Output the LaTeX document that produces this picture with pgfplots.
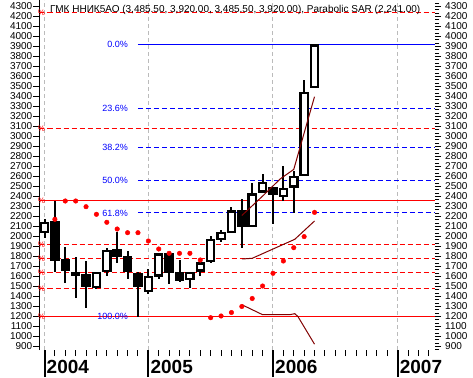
\documentclass[border=0pt]{standalone}
\usepackage{fontspec}
\setmainfont{Liberation Sans}
\usepackage{pgfplots}
\usepackage{pgfplotstable}
\pgfplotsset{compat=1.18}
\definecolor{maroonline}{HTML}{800000}
\definecolor{gridgray}{HTML}{BBBBBB}
\definecolor{fibblue}{HTML}{0000FF}
\definecolor{fibred}{HTML}{FF0000}

\pgfplotstableread{
i o h l c
0 2036 2172 1980 2148
1 2152 2352 1650 1755
2 1772 1890 1535 1656
3 1645 1795 1382 1600
4 1620 1755 1286 1495
5 1480 1645 1478 1645
6 1645 1882 1600 1862
7 1872 2042 1735 1792
8 1805 1856 1575 1645
9 1640 1640 1200 1500
10 1448 1670 1420 1610
11 1600 1835 1578 1832
12 1832 1835 1525 1638
13 1645 1765 1540 1555
14 1562 1645 1490 1643
15 1648 1745 1607 1740
16 1742 2002 1740 1974
17 1966 2065 1948 2043
18 2037 2295 2033 2260
19 2262 2376 1880 2093
20 2093 2531 2093 2430
21 2438 2622 2438 2548
22 2497 2497 2128 2410
23 2392 2707 2350 2488
24 2488 2657 2238 2606
25 2606 3564 2606 3448
26 3485.5 3920 3485.5 3920
}\candles

\pgfplotstableread{
i s
1 2172
2 2355
3 2355
4 2298
5 2222
6 2142
7 2075
8 2038
9 2038
10 1955
11 1875
12 1832
13 1832
14 1832
15 1765
16 1188
17 1205
18 1240
19 1300
20 1380
21 1505
22 1632
23 1755
24 1888
25 1999
26 2241
}\sar

\pgfplotsset{
  base/.style={at={(0,0)}, anchor=south west, scale only axis,
    width=395.5pt, height=350pt,
    xmin=-0.4815, xmax=37.60, ymin=865, ymax=4365,
    tick label style={font=\fontsize{10}{12}\selectfont},
    /pgf/number format/assume math mode=true,
    /pgf/number format/1000 sep={}},
  hline/.style={line width=1pt},
  dline/.style={line width=1pt, dash pattern=on 5pt off 3pt},
  candle/.style={draw=none, mark=none, forget plot, error bars/.cd, y dir=both, y explicit, error mark=none},
}

\begin{document}
\begin{tikzpicture}
\path[use as bounding box] (-39.5pt,-27pt) rectangle (433.5pt,350pt);

% bottom month ticks and year bars
\begin{axis}[base, axis y line=none, axis x line*=bottom,
  x axis line style={draw=none},
  xtick={0,10,22,34}, xticklabels={},
  minor xtick={1,2,3,4,5,6,7,8,9,11,12,13,14,15,16,17,18,19,20,21,23,24,25,26,27,28,29,30,31,32,33,35,36,37},
  tick align=outside, major tick length=27pt, minor tick length=6pt,
  major x tick style={line width=2pt, black},
  minor x tick style={line width=1pt, black}]
\end{axis}

% right y ticks
\begin{axis}[base, axis x line=none, axis y line*=right,
  y axis line style={draw=none},
  ytick distance=100, minor y tick num=2,
  tick align=outside, major tick length=6pt, minor tick length=4pt,
  tick style={black, line width=1pt},
  yticklabel style={inner sep=1pt, xshift=3pt}]
\end{axis}

% data axis with left y ticks
\begin{axis}[base, clip mode=individual, axis x line=none, axis y line*=left,
  ytick distance=100, tick align=outside, major tick length=6pt,
  tick style={black, line width=1pt},
  y axis line style={black, line width=1pt},
  yticklabel style={inner sep=1pt}]

% vertical year grid
\addplot[gridgray, line width=1pt, dash pattern=on 4pt off 3pt] coordinates {(0,865) (0,4365)};
\addplot[gridgray, line width=1pt, dash pattern=on 4pt off 3pt] coordinates {(10,865) (10,4365)};
\addplot[gridgray, line width=1pt, dash pattern=on 4pt off 3pt] coordinates {(22,865) (22,4365)};
\addplot[gridgray, line width=1pt, dash pattern=on 4pt off 3pt] coordinates {(34,865) (34,4365)};

% red levels
\addplot[draw=fibred, hline] coordinates {(-0.4815,2355) (37.6,2355)};
\addplot[draw=fibred, hline] coordinates {(-0.4815,1200) (37.6,1200)};
\addplot[draw=fibred, dline] coordinates {(-0.4815,4240) (37.6,4240)};
\addplot[draw=fibred, dline] coordinates {(-0.4815,3080) (37.6,3080)};
\addplot[draw=fibred, dline] coordinates {(-0.4815,1915) (37.6,1915)};
\addplot[draw=fibred, dline] coordinates {(-0.4815,1775) (37.6,1775)};
\addplot[draw=fibred, dline] coordinates {(-0.4815,1635) (37.6,1635)};
\addplot[draw=fibred, dline] coordinates {(-0.4815,1475) (37.6,1475)};

% blue fibonacci levels
\addplot[draw=fibblue, hline] coordinates {(9.0,3920) (37.6,3920)};
\addplot[draw=fibblue, dline] coordinates {(9.0,3280) (37.6,3280)};
\addplot[draw=fibblue, dline] coordinates {(9.0,2890) (37.6,2890)};
\addplot[draw=fibblue, dline] coordinates {(9.0,2560) (37.6,2560)};
\addplot[draw=fibblue, dline] coordinates {(9.0,2235) (37.6,2235)};

% candle wicks
\addplot[candle, error bar style={draw=black, line width=2pt, solid}]
  table[x=i, y expr={(\thisrow{h}+\thisrow{l})/2}, y error expr={(\thisrow{h}-\thisrow{l})/2}] {\candles};
% candle bodies
\addplot[candle, error bar style={draw=black, line width=9.5pt, solid}]
  table[x=i, y expr={(\thisrow{o}+\thisrow{c})/2}, y error expr={abs(\thisrow{c}-\thisrow{o})/2}] {\candles};
% hollow interior of rising candles
\addplot[candle, error bar style={draw=white, line width=5pt, solid}]
  table[x=i, y expr={(\thisrow{o}+\thisrow{c})/2}, y error expr={max((\thisrow{c}-\thisrow{o})/2-22,0)}] {\candles};

% dark red lines
\addplot[draw=maroonline, line width=1pt] coordinates {(19,2210) (21,2404) (22.7,2576) (24,2671) (26,3398)};
\addplot[draw=maroonline, line width=1pt] coordinates {(19,1775) (20,1782) (24.1,1972) (26,2155)};
\addplot[draw=maroonline, line width=1pt] coordinates {(19,1318) (21,1218) (23.7,1220) (24.1,1228) (24.4,1200) (26,923)};

% parabolic SAR
\addplot[only marks, mark=*, mark size=2.3pt, mark options={draw=fibred, fill=fibred}] table[x=i, y=s] {\sar};

% fibonacci labels
\begin{scope}[every node/.style={anchor=east, inner sep=0pt, text=fibblue, font=\fontsize{9}{10}\selectfont}]
\node at (axis cs:8.04,3920) {0.0\%};
\node at (axis cs:8.04,3280) {23.6\%};
\node at (axis cs:8.04,2890) {38.2\%};
\node at (axis cs:8.04,2560) {50.0\%};
\node at (axis cs:8.04,2235) {61.8\%};
\node at (axis cs:8.04,1200) {100.0\%};
\end{scope}

% red percent markers
\begin{scope}[every node/.style={inner sep=0pt, text=fibred, font=\fontsize{8}{9}\selectfont}]
\node at (axis cs:-0.29,4240) {\%};
\node at (axis cs:-0.29,3080) {\%};
\node at (axis cs:-0.29,2355) {\%};
\node at (axis cs:-0.29,1915) {\%};
\node at (axis cs:-0.29,1775) {\%};
\node at (axis cs:-0.29,1635) {\%};
\node at (axis cs:-0.29,1475) {\%};
\node at (axis cs:-0.29,1200) {\%};
\end{scope}

% title
\node[anchor=west, inner sep=0pt, font=\fontsize{10}{12}\selectfont] at (axis cs:0.53,4265)
  {ГМК ННИК5АО (3,485.50, 3,920.00, 3,485.50, 3,920.00), Parabolic SAR (2,241.00)};

% years
\begin{scope}[every node/.style={anchor=west, inner sep=0pt, xshift=2pt, yshift=-17pt, font=\fontsize{19}{20}\bfseries\selectfont}]
\node at (axis cs:0,865) {2004};
\node at (axis cs:10,865) {2005};
\node at (axis cs:22,865) {2006};
\node at (axis cs:34,865) {2007};
\end{scope}
\end{axis}
\end{tikzpicture}
\end{document}
